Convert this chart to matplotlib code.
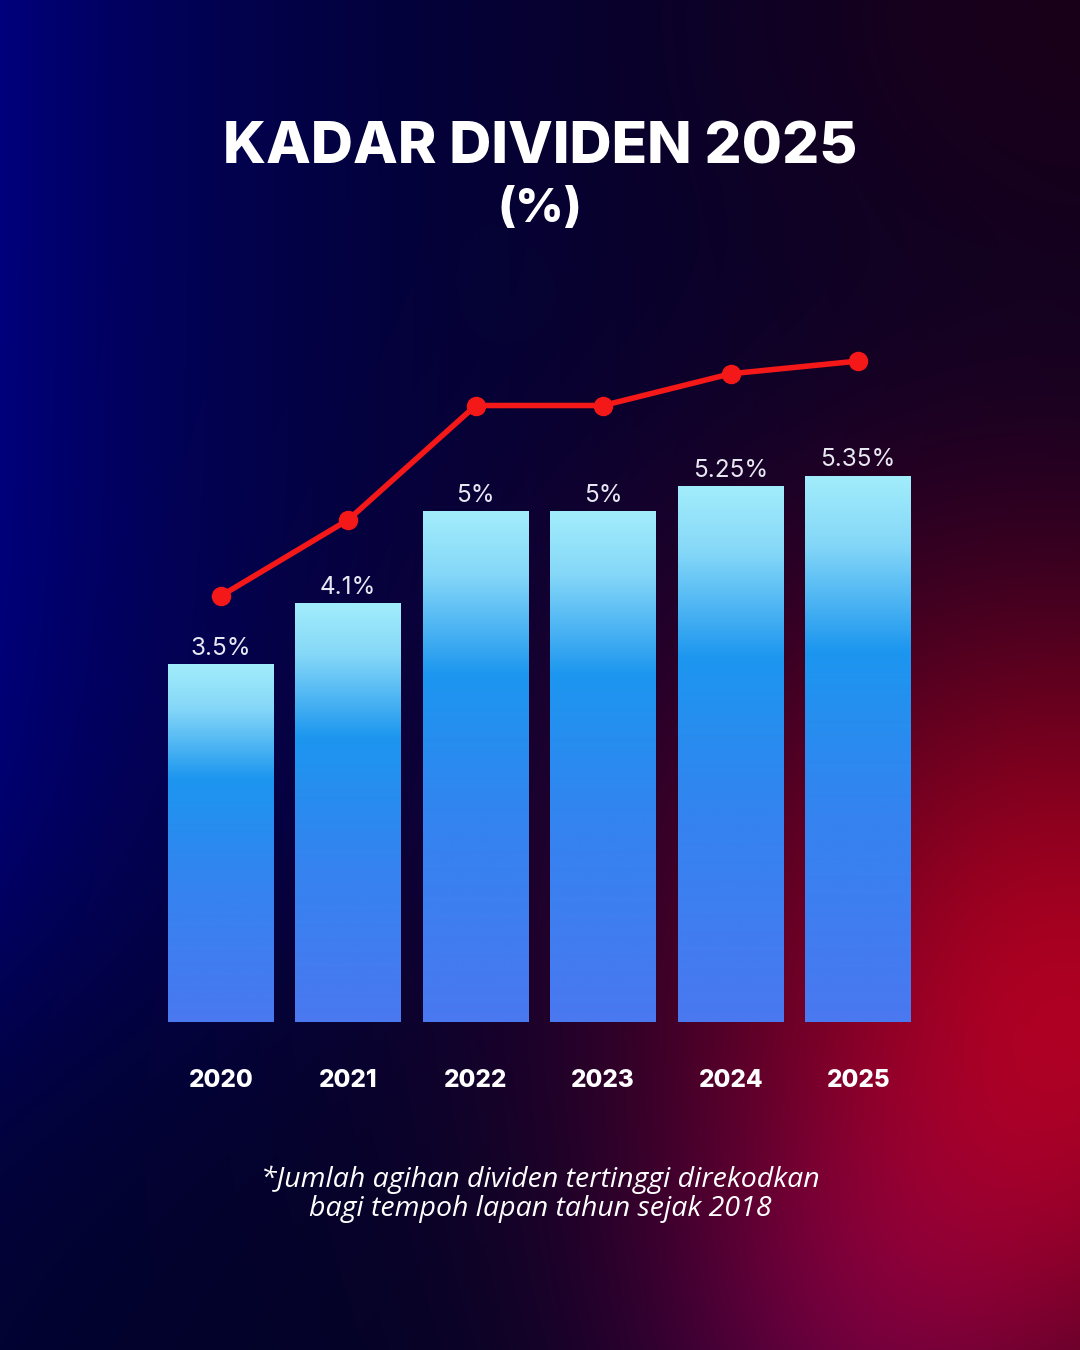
import numpy as np
import matplotlib
matplotlib.use('Agg')
import matplotlib.pyplot as plt
from matplotlib.colors import LinearSegmentedColormap

years = ['2020', '2021', '2022', '2023', '2024', '2025']
rates = [3.5, 4.1, 5.0, 5.0, 5.25, 5.35]
labels = ['3.5%', '4.1%', '5%', '5%', '5.25%', '5.35%']

W, H = 1080, 1350
fig = plt.figure(figsize=(W / 100, H / 100), dpi=100)

# background gradient
yy, xx = np.mgrid[0:H, 0:W].astype(float)
bg = np.zeros((H, W, 3))
bg[:] = np.array([3, 3, 34]) / 255

def glow(cx, cy, sx, sy, rgb):
    g = np.exp(-(((xx - cx) / sx) ** 2 + ((yy - cy) / sy) ** 2))
    return g[..., None] * np.array(rgb) / 255

blue = np.exp(-xx / 330) * (0.15 + 0.85 / (1 + np.exp((yy - 980) / 120)))
bg += blue[..., None] * np.array([-3, -3, 90]) / 255
bg += glow(1080, 1060, 380, 400, [150, -3, 2])
bg += glow(1000, 760, 450, 350, [35, -3, -8])
bg += glow(1080, 0, 420, 300, [22, -3, -12])
bg += glow(850, 1350, 220, 250, [45, -3, 25])
bg = np.clip(bg, 0, 1)
bgax = fig.add_axes([0, 0, 1, 1], zorder=-10)
bgax.imshow(bg, aspect='auto', extent=(0, 1, 0, 1))
bgax.set_axis_off()

# bars
ax = fig.add_axes([157 / W, 1 - 1022 / H, 765 / W, 722 / H])
ax.patch.set_alpha(0)
x = np.arange(len(years))
bars = ax.bar(x, rates, width=0.83, color='none', edgecolor='none')
ax.set_xlim(-0.5, 5.5)
ax.set_ylim(0, 722 / 102)

cmap = LinearSegmentedColormap.from_list('bar', [
    (0.0, '#a2edfc'), (0.12, '#86d8f8'), (0.32, '#1c96ef'),
    (0.6, '#3384f0'), (1.0, '#4a78f0')])
grad = np.linspace(0, 1, 256)[:, None]
for b in bars:
    ax.imshow(grad, cmap=cmap, aspect='auto', interpolation='bicubic',
              extent=(b.get_x(), b.get_x() + b.get_width(), 0, b.get_height()),
              zorder=2)
for xi, r, lab in zip(x, rates, labels):
    ax.annotate(lab, (xi, r), xytext=(0, 3.5), textcoords='offset points',
                ha='center', va='bottom', color='#e8e8f2', fontsize=17.5,
                family='Inter')

ax.set_xticks(x, years)
ax.tick_params(axis='x', length=0, pad=34, labelcolor='white', labelsize=17.5)
for t in ax.get_xticklabels():
    t.set_family('Inter')
    t.set_fontweight('heavy')
ax.set_yticks([])
for s in ax.spines.values():
    s.set_visible(False)

# line on its own scale
ax2 = ax.twinx()
ax2.plot(x, rates, color='#f41818', lw=4, marker='o', ms=13,
         solid_capstyle='round', zorder=5)
ax2.set_ylim(18.5 / 127, (722 + 18.5) / 127)
ax2.set_yticks([])
for s in ax2.spines.values():
    s.set_visible(False)

fig.text(0.5, 1 - 149 / H, 'KADAR DIVIDEN 2025', ha='center', va='center',
         color='white', fontsize=42, family='Inter', fontweight='heavy')
fig.text(0.5, 1 - 210 / H, '(%)', ha='center', va='center',
         color='white', fontsize=34, family='Inter', fontweight='heavy')
fig.text(0.5, 1 - 1194 / H,
         '*Jumlah agihan dividen tertinggi direkodkan\nbagi tempoh lapan tahun sejak 2018',
         ha='center', va='center', color='white', fontsize=20.5,
         family='Open Sans', style='italic', linespacing=1.05)

fig.savefig('out.png', dpi=100)
